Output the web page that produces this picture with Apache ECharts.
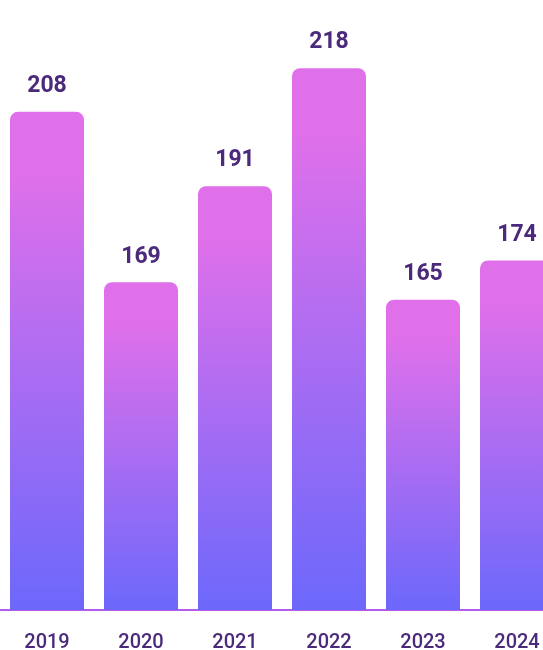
<!DOCTYPE html>
<html><head><meta charset="utf-8">
<script src="https://cdn.jsdelivr.net/npm/echarts@6/dist/echarts.min.js"></script>
<style>html,body{margin:0;padding:0;background:#fff}#c{width:543px;height:650px}</style>
</head><body><div id="c"></div>
<script>
const categories = ['2019','2020','2021','2022','2023','2024'];
const values = [208, 169, 191, 218, 165, 174];

const chart = echarts.init(document.getElementById('c'));
chart.setOption({
  animation: false,
  grid: { left: 0, right: -21, top: 0, bottom: 40, outerBoundsMode: 'none', containLabel: false },
  xAxis: {
    type: 'category',
    data: categories,
    axisTick: { show: false },
    axisLine: { lineStyle: { color: '#B25CF0', width: 2 } },
    axisLabel: { color: '#4B2A7B', fontSize: 20, fontWeight: 500, fontFamily: 'Roboto', margin: 23 }
  },
  yAxis: { type: 'value', min: 94, max: 233.6, show: false, splitLine: { show: false } },
  series: [{
    type: 'bar',
    data: values,
    barWidth: 74,
    itemStyle: {
      borderRadius: [8, 8, 0, 0],
      color: new echarts.graphic.LinearGradient(0, 0, 0, 1, [
        { offset: 0, color: '#E070EA' },
        { offset: 0.12, color: '#E070EA' },
        { offset: 1, color: '#6C68FB' }
      ])
    },
    label: {
      show: true, position: 'top', distance: 14,
      color: '#4B2A7B', fontSize: 23, fontWeight: 'bold', fontFamily: 'Roboto'
    }
  }]
});
</script></body></html>
